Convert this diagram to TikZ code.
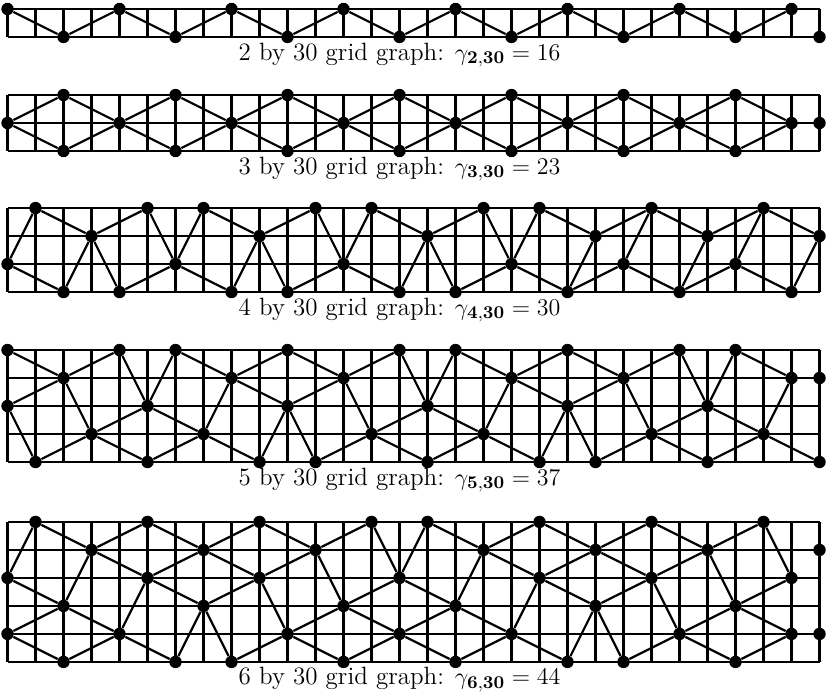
\documentclass[tikz,border=0pt]{standalone}
\usepackage{amsmath}
\usepackage{tikz}

\begin{document}
\begin{tikzpicture}[
    x=14pt, y=-14pt,
    gridline/.style={line width=1.1pt},
    link/.style={line width=1.1pt},
    dot/.style={circle, fill=black, inner sep=0pt, minimum size=6.2pt},
    caption/.style={font=\fontsize{12.5}{14}\selectfont, inner sep=0pt}
]
    \useasboundingbox (0,0) rectangle (29.607,24.786);

    % 2 by 30
    \begin{scope}[shift={(0.268,0.321)}]
        \foreach \c in {0,...,29} \draw[gridline] (\c,0) -- (\c,1);
        \foreach \r in {0,1} \draw[gridline] (0,\r) -- (29,\r);
        \foreach \c in {0,4,...,28} \node[dot] (g2-\c-0) at (\c,0) {};
        \foreach \c in {2,6,...,26} \node[dot] (g2-\c-1) at (\c,1) {};
        \node[dot] (g2-29-1) at (29,1) {};
        \foreach \c [evaluate=\c as \d using int(\c+2), evaluate=\c as \e using int(\c+4)] in {0,4,...,24}
            \draw[link] (g2-\c-0) -- (g2-\d-1) -- (g2-\e-0);
        \node[caption] (cap2) at (14,1.64) {2 by 30 grid graph: $\gamma_{\mathbf{2,30}}=16$};
    \end{scope}

    % 3 by 30
    \begin{scope}[shift={(0.268,3.393)}]
        \foreach \c in {0,...,29} \draw[gridline] (\c,0) -- (\c,2);
        \foreach \r in {0,1,2} \draw[gridline] (0,\r) -- (29,\r);
        \foreach \c in {0,4,...,28} \node[dot] (g3-\c-1) at (\c,1) {};
        \foreach \c in {2,6,...,26} {
            \node[dot] (g3-\c-0) at (\c,0) {};
            \node[dot] (g3-\c-2) at (\c,2) {};
        }
        \node[dot] (g3-29-1) at (29,1) {};
        \foreach \c [evaluate=\c as \d using int(\c+2), evaluate=\c as \e using int(\c+4)] in {0,4,...,24} {
            \draw[link] (g3-\c-1) -- (g3-\d-0) -- (g3-\e-1);
            \draw[link] (g3-\c-1) -- (g3-\d-2) -- (g3-\e-1);
        }
        \node[caption] (cap3) at (14,2.64) {3 by 30 grid graph: $\gamma_{\mathbf{3,30}}=23$};
    \end{scope}

    % 4 by 30
    \begin{scope}[shift={(0.268,7.43)}]
        \foreach \c in {0,...,29} \draw[gridline] (\c,0) -- (\c,3);
        \foreach \r in {0,...,3} \draw[gridline] (0,\r) -- (29,\r);
        \foreach \c/\r in {0/2,1/0,2/3,3/1,4/3,5/0,6/2,7/0,8/3,9/1,10/3,11/0,12/2,13/0,14/3,
                           15/1,16/3,17/0,18/2,19/0,20/3,21/1,22/2,23/0,24/3,25/1,26/2,27/0,28/3,29/1}
            \node[dot] (g4-\c-\r) at (\c,\r) {};
        \foreach \p/\q in {0-2/1-0,0-2/2-3,1-0/3-1,2-3/3-1,3-1/4-3,3-1/5-0,4-3/6-2,5-0/6-2,
                           6-2/7-0,6-2/8-3,7-0/9-1,8-3/9-1,9-1/10-3,9-1/11-0,10-3/12-2,11-0/12-2,
                           12-2/13-0,12-2/14-3,13-0/15-1,14-3/15-1,15-1/16-3,15-1/17-0,16-3/18-2,
                           17-0/18-2,18-2/19-0,18-2/20-3,19-0/21-1,20-3/21-1,20-3/22-2,21-1/23-0,
                           22-2/23-0,22-2/24-3,23-0/25-1,24-3/25-1,24-3/26-2,25-1/27-0,26-2/27-0,
                           26-2/28-3,27-0/29-1,28-3/29-1}
            \draw[link] (g4-\p) -- (g4-\q);
        \node[caption] (cap4) at (14,3.64) {4 by 30 grid graph: $\gamma_{\mathbf{4,30}}=30$};
    \end{scope}

    % 5 by 30
    \begin{scope}[shift={(0.268,12.5)}]
        \foreach \c in {0,...,29} \draw[gridline] (\c,0) -- (\c,4);
        \foreach \r in {0,...,4} \draw[gridline] (0,\r) -- (29,\r);
        \foreach \c/\r in {0/0,0/2,1/4,2/1,3/3,4/0,5/2,5/4,6/0,7/3,8/1,9/4,
                           10/0,10/2,11/4,12/1,13/3,14/0,15/2,15/4,16/0,17/3,18/1,19/4,
                           20/0,20/2,21/4,22/1,23/3,24/0,25/2,25/4,26/0,27/3,28/1,29/1,29/4}
            \node[dot] (g5-\c-\r) at (\c,\r) {};
        \foreach \p/\q in {0-0/2-1,0-2/1-4,0-2/2-1,1-4/3-3,2-1/3-3,2-1/4-0,3-3/5-2,3-3/5-4,
                           4-0/5-2,5-2/6-0,5-2/7-3,5-4/7-3,6-0/8-1,7-3/8-1,7-3/9-4,8-1/10-0,
                           8-1/10-2,9-4/10-2,
                           10-0/12-1,10-2/11-4,10-2/12-1,11-4/13-3,12-1/13-3,12-1/14-0,13-3/15-2,
                           13-3/15-4,14-0/15-2,15-2/16-0,15-2/17-3,15-4/17-3,16-0/18-1,17-3/18-1,
                           17-3/19-4,18-1/20-0,18-1/20-2,19-4/20-2,
                           20-0/22-1,20-2/21-4,20-2/22-1,21-4/23-3,22-1/23-3,22-1/24-0,23-3/25-2,
                           23-3/25-4,24-0/25-2,25-2/26-0,25-2/27-3,25-4/27-3,26-0/28-1,27-3/28-1,
                           27-3/29-4}
            \draw[link] (g5-\p) -- (g5-\q);
        \node[caption] (cap5) at (14,4.64) {5 by 30 grid graph: $\gamma_{\mathbf{5,30}}=37$};
    \end{scope}

    % 6 by 30
    \begin{scope}[shift={(0.268,18.64)}]
        \foreach \c in {0,...,29} \draw[gridline] (\c,0) -- (\c,5);
        \foreach \r in {0,...,5} \draw[gridline] (0,\r) -- (29,\r);
        \foreach \c/\r in {0/2,0/4,1/0,2/3,2/5,3/1,4/4,5/0,5/2,6/5,7/1,7/3,8/5,9/0,9/2,10/4,
                           11/1,12/3,12/5,13/0,14/2,14/4,15/0,16/3,16/5,17/1,18/4,19/0,19/2,20/5,
                           21/1,21/3,22/5,23/0,23/2,24/4,25/1,26/3,26/5,27/0,28/2,28/4,29/1,29/4}
            \node[dot] (g6-\c-\r) at (\c,\r) {};
        \foreach \p/\q in {0-2/1-0,0-2/2-3,0-4/2-3,0-4/2-5,1-0/3-1,2-3/3-1,2-3/4-4,2-5/4-4,
                           3-1/5-0,3-1/5-2,4-4/5-2,4-4/6-5,5-0/7-1,5-2/7-1,5-2/7-3,6-5/7-3,
                           7-1/9-0,7-1/9-2,7-3/8-5,7-3/9-2,8-5/10-4,9-0/11-1,9-2/10-4,9-2/11-1,
                           10-4/12-3,10-4/12-5,11-1/12-3,11-1/13-0,12-3/14-2,12-3/14-4,12-5/14-4,
                           13-0/14-2,14-2/15-0,14-2/16-3,14-4/16-3,14-4/16-5,15-0/17-1,16-3/17-1,
                           16-3/18-4,16-5/18-4,17-1/19-0,17-1/19-2,18-4/19-2,18-4/20-5,19-0/21-1,
                           19-2/21-1,19-2/21-3,20-5/21-3,21-1/23-0,21-1/23-2,21-3/22-5,21-3/23-2,
                           22-5/24-4,23-0/25-1,23-2/24-4,23-2/25-1,24-4/26-3,24-4/26-5,25-1/26-3,
                           25-1/27-0,26-3/28-2,26-3/28-4,26-5/28-4,27-0/28-2}
            \draw[link] (g6-\p) -- (g6-\q);
        \node[caption] (cap6) at (14,5.64) {6 by 30 grid graph: $\gamma_{\mathbf{6,30}}=44$};
    \end{scope}
\end{tikzpicture}
\end{document}
